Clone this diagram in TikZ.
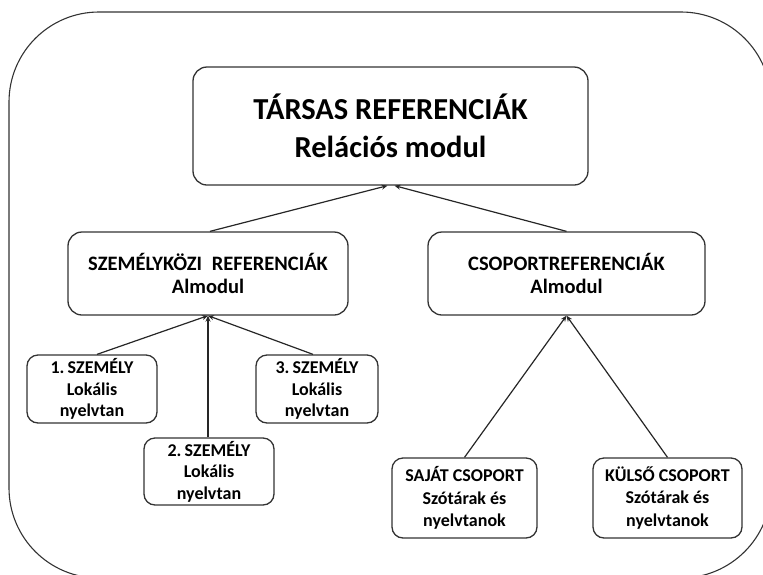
\documentclass[tikz,border=0pt]{standalone}
\usepackage{fontspec}
\setmainfont{Carlito}
\usetikzlibrary{arrows.meta}
\begin{document}
\begin{tikzpicture}[x=1pt,y=-1pt,
  box/.style={draw=black!80, line width=1.3pt, align=center, inner sep=0pt, font=\bfseries},
  bigbox/.style={box, rounded corners=14pt},
  smallbox/.style={box, rounded corners=11pt, font=\bfseries\fontsize{18}{21.5}\selectfont},
  arr/.style={draw=black!85, line width=1.2pt, -{Stealth[length=6pt,width=5pt]}},
  frame/.style={draw=black!80, line width=1.1pt, rounded corners=90pt}
]
\useasboundingbox (0,0) rectangle (763,574);
\clip (0,0) rectangle (763,574);
\draw[frame] (9,12) rectangle (771,578);

\node[bigbox, minimum width=395pt, minimum height=118pt, font=\bfseries\fontsize{30.5}{38}\selectfont] (top) at (390.5,126) {TÁRSAS REFERENCIÁK\\Relációs modul};

\node[bigbox, minimum width=280pt, minimum height=83pt, font=\bfseries\fontsize{20.5}{23}\selectfont] (szem) at (208,273.5) {SZEMÉLYKÖZI\hspace{0.25em} REFERENCIÁK\\Almodul};
\node[bigbox, minimum width=277pt, minimum height=83pt, font=\bfseries\fontsize{20.5}{23}\selectfont] (csop) at (566.5,273.5) {CSOPORTREFERENCIÁK\\Almodul};

\node[smallbox, minimum width=130pt, minimum height=68pt] (p1) at (92,389) {1.\hspace{-0.12em} SZEMÉLY\\Lokális\\nyelvtan};
\node[smallbox, minimum width=122pt, minimum height=68pt] (p3) at (317,389) {3.\hspace{-0.12em} SZEMÉLY\\Lokális\\nyelvtan};
\node[smallbox, minimum width=130pt, minimum height=67pt] (p2) at (209,471.5) {2.\hspace{-0.12em} SZEMÉLY\\Lokális\\nyelvtan};

\node[smallbox, minimum width=145pt, minimum height=80pt, font=\bfseries\fontsize{18}{22.5}\selectfont] (saj) at (464.5,498) {SAJÁT CSOPORT\\Szótárak és\\nyelvtanok};
\node[smallbox, minimum width=149pt, minimum height=80pt, font=\bfseries\fontsize{18}{22.5}\selectfont] (kul) at (667.5,498) {KÜLSŐ CSOPORT\\Szótárak és\\nyelvtanok};

\draw[arr] ([xshift=2pt]szem.north) -- ([xshift=-3pt]top.south);
\draw[arr] (csop.north) -- ([xshift=4pt]top.south);

\draw[arr] ([xshift=5pt]p1.north) -- (szem.south);
\draw[arr] ([xshift=-4pt]p3.north) -- (szem.south);
\draw[arr] ([xshift=-1pt]p2.north) -- (szem.south);

\draw[arr] (saj.north) -- (csop.south);
\draw[arr] (kul.north) -- (csop.south);
\end{tikzpicture}
\end{document}
